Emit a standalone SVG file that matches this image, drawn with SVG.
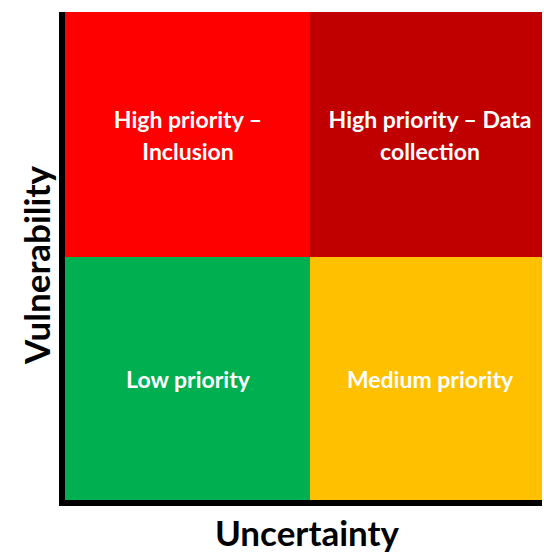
<svg xmlns="http://www.w3.org/2000/svg" width="544" height="554" viewBox="0 0 544 554">
<style>
.q{font-family:Lato,"Liberation Sans",sans-serif;font-weight:bold;font-size:23px;fill:#ffffff;text-anchor:middle}
.ax{font-family:Lato,"Liberation Sans",sans-serif;font-weight:bold;font-size:35px;fill:#000000;text-anchor:middle}
</style>
<rect width="544" height="554" fill="#ffffff"/>
<g id="q-high-inclusion">
<rect x="62" y="12" width="248" height="245" fill="#ff0000"/>
<text class="q" x="188" y="128">High priority –</text>
<text class="q" x="188" y="160">Inclusion</text>
</g>
<g id="q-high-data">
<rect x="310" y="12" width="232" height="245" fill="#c00000"/>
<text class="q" x="430" y="128">High priority – Data</text>
<text class="q" x="430" y="160">collection</text>
</g>
<g id="q-low">
<rect x="62" y="257" width="248" height="246" fill="#00b050"/>
<text class="q" x="188" y="388">Low priority</text>
</g>
<g id="q-medium">
<rect x="310" y="257" width="232" height="246" fill="#ffc000"/>
<text class="q" x="430" y="388">Medium priority</text>
</g>
<g id="axes">
<line x1="62" y1="12" x2="62" y2="506" stroke="#000" stroke-width="6"/>
<line x1="59" y1="503" x2="542" y2="503" stroke="#000" stroke-width="6"/>
</g>
<text class="ax" x="307" y="546">Uncertainty</text>
<text class="ax" transform="translate(50,265) rotate(-90)">Vulnerability</text>
</svg>
